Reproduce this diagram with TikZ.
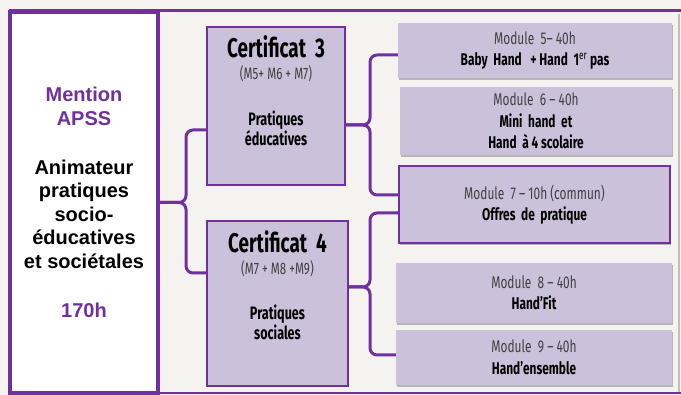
\documentclass[tikz,border=0pt]{standalone}
\usepackage{fontspec}
\setmainfont{Liberation Sans}
\newfontfamily\condfont[FakeStretch=0.7]{Fira Sans}
\usepackage{xcolor}
\usetikzlibrary{positioning,shadows}

\definecolor{apsspurple}{HTML}{7030A0}
\definecolor{lavender}{HTML}{CCC1DA}
\definecolor{paper}{HTML}{F4F3EF}
\definecolor{headgrey}{HTML}{404040}

\begin{document}
\begin{tikzpicture}[
  x=1pt, y=-1pt,
  mentionbox/.style={rectangle, draw=apsspurple, line width=4pt, fill=white, align=center, font=\bfseries\fontsize{20}{23.5}\selectfont},
  certbox/.style={rectangle, draw=apsspurple, line width=2pt, fill=lavender},
  certtext/.style={anchor=north, align=center, inner sep=0pt, font=\condfont\fontsize{18}{20}\selectfont},
  modbox/.style={rectangle, fill=lavender, align=center, font=\condfont\fontsize{17}{21.5}\selectfont,
    drop shadow={shadow xshift=1pt, shadow yshift=-2pt, fill=black!45, opacity=0.6}},
  brace/.style={draw=apsspurple, line width=3pt, rounded corners=7pt}
]
\useasboundingbox (0,0) rectangle (681,395);
\fill[paper] (0,0) rectangle (681,395);

%Frame
\draw[black!25, line width=1.5pt] (679,14) -- (679,393);
\draw[apsspurple, line width=3pt] (9,11) -- (681,11);
\draw[apsspurple, line width=1.5pt] (9,393) -- (681,393);

%Nodes
\node[mentionbox, minimum width=148pt, minimum height=381pt] (mention) at (84,202.5)
  {\textcolor{apsspurple}{Mention}\\\textcolor{apsspurple}{APSS}\\[25.5pt]
   Animateur\\pratiques\\socio-\\éducatives\\et sociétales\\[25.5pt]
   \textcolor{apsspurple}{170h}};

\node[certbox, minimum width=138pt, minimum height=158pt] (cert3) at (276,106) {};
\node[certbox, minimum width=141pt, minimum height=165pt] (cert4) at (277.5,303.5) {};
\node[certtext] (cert3txt) at ([yshift=-9.5pt]cert3.north)
  {{\bfseries\fontsize{27}{28}\selectfont Certificat\ \ 3}\\[2pt]
   {\fontsize{16.5}{18}\selectfont\color{headgrey}(M5+ M6 + M7)}\\[26pt]
   \bfseries Pratiques\\\bfseries éducatives};
\node[certtext] (cert4txt) at ([yshift=-10.5pt]cert4.north)
  {{\bfseries\fontsize{27}{28}\selectfont Certificat\ \ 4}\\[2pt]
   {\fontsize{16.5}{18}\selectfont\color{headgrey}(M7 + M8 +M9)}\\[25pt]
   \bfseries Pratiques\\\bfseries sociales};

\node[modbox, minimum width=274pt, minimum height=55pt] (mod5) at (535,50.5)
  {\textcolor{headgrey}{Module\ \ 5– 40h}\\\bfseries Baby\ \ Hand\ \ \ + Hand\ \ 1{\mdseries\textsuperscript{er}} pas};
\node[modbox, minimum width=272pt, minimum height=68pt] (mod6) at (536,121)
  {\textcolor{headgrey}{Module\ \ 6 – 40h}\\\bfseries Mini\ \ hand\ \ et\\\bfseries Hand\ \ à 4 scolaire};
\node[modbox, draw=apsspurple, line width=2pt, minimum width=271pt, minimum height=77pt] (mod7) at (534.5,204.5)
  {\textcolor{headgrey}{Module\ \ 7 – 10h (commun)}\\\bfseries Offres\ \ de\ \ pratique};
\node[modbox, minimum width=276pt, minimum height=60pt] (mod8) at (534,293)
  {\textcolor{headgrey}{Module\ \ 8 – 40h}\\\bfseries Hand’Fit};
\node[modbox, minimum width=276pt, minimum height=55pt] (mod9) at (534,357.5)
  {\textcolor{headgrey}{Module\ \ 9 – 40h}\\\bfseries Hand’ensemble};

%Braces
\draw[brace] ([yshift=-24pt]cert3.west) -| ([xshift=26pt]mention.east) -- (mention.east);
\draw[brace] ([yshift=30.5pt]cert4.west) -| ([xshift=26pt]mention.east) -- (mention.east);

\draw[brace] ([yshift=-4.5pt]mod5.west) -| ([xshift=24pt,yshift=-19pt]cert3.east) -- ([yshift=-19pt]cert3.east);
\draw[brace] ([yshift=9.5pt]mod7.west) -| ([xshift=24pt,yshift=-19pt]cert3.east) -- ([yshift=-19pt]cert3.east);

\draw[brace] ([yshift=-8.5pt]mod7.west) -| ([xshift=21pt,yshift=16.5pt]cert4.east) -- ([yshift=16.5pt]cert4.east);
\draw[brace] ([yshift=2.5pt]mod9.west) -| ([xshift=21pt,yshift=16.5pt]cert4.east) -- ([yshift=16.5pt]cert4.east);
\end{tikzpicture}
\end{document}
